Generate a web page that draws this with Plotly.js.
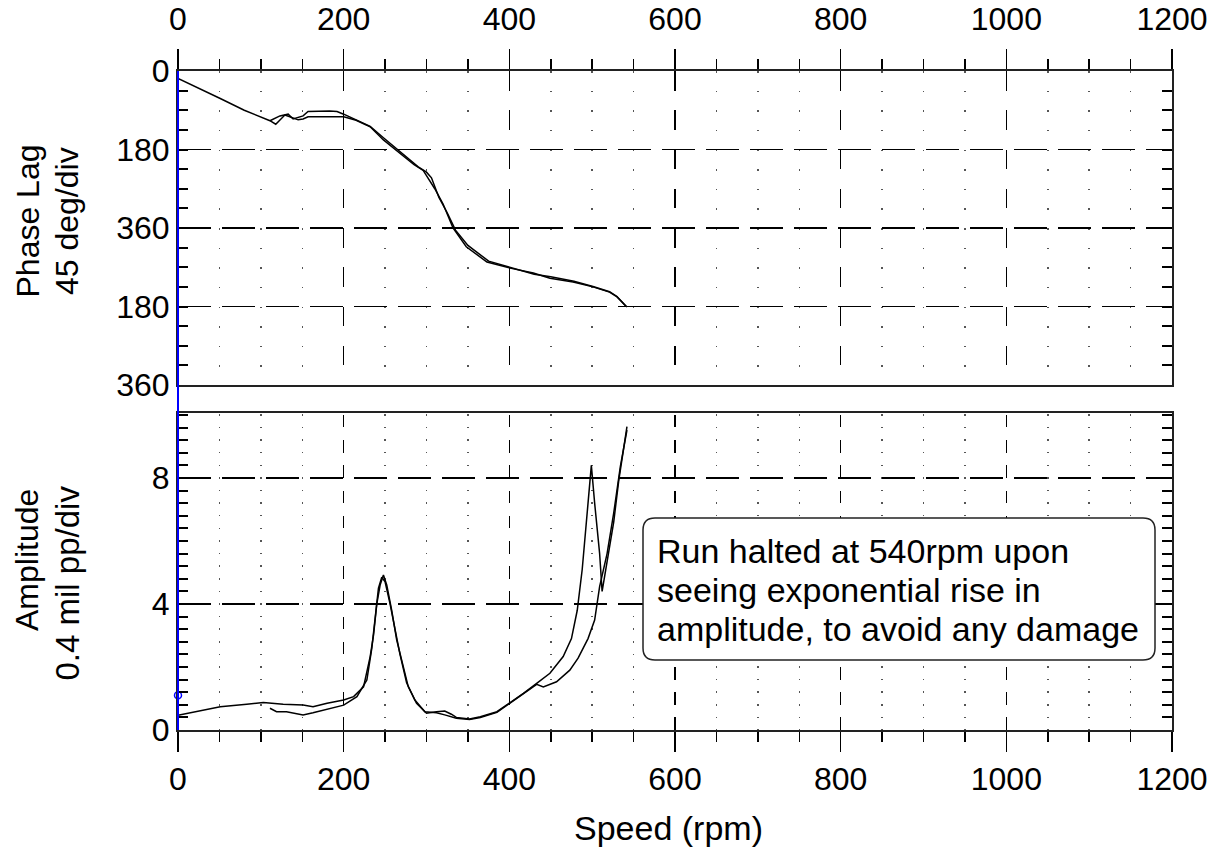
<!DOCTYPE html>
<html>
<head>
<meta charset="utf-8">
<script src="https://cdn.plot.ly/plotly-3.0.1.min.js"></script>
<style>html,body{margin:0;padding:0;background:#fff;}#chart{width:1216px;height:851px;}</style>
</head>
<body>
<div id="chart"></div>
<script>
// ---------------- data ----------------
const phaseRun1Speed = [0, 25, 51, 80, 111, 118, 129, 135, 145, 151, 157, 183, 200, 215, 232, 248, 262, 272, 285, 296, 300, 310, 320, 332, 348, 373, 401, 429, 449, 477, 501, 521, 530, 542];
const phaseRun1Lag   = [17, 39, 63, 90, 114, 122, 101, 105, 112, 110, 105, 105, 105, 113, 128, 158, 180, 196, 215, 228, 240, 270, 305, 360, 403, 438, 452, 463, 475, 484, 495, 507, 518, 541];

const phaseRun2Speed = [111, 123, 133, 139, 151, 157, 183, 192, 200, 215, 232, 248, 262, 275, 290, 300, 306, 315, 325, 335, 350, 375, 401, 430, 450, 478, 501, 521, 530, 541];
const phaseRun2Lag   = [114, 103, 99, 110, 103, 93, 92, 93, 99, 112, 127, 153, 175, 195, 220, 232, 245, 290, 325, 365, 400, 436, 450, 466, 472, 482, 494, 506, 517, 540];

const ampRun1Speed = [0, 30, 51, 83, 103, 127, 151, 163, 180, 200, 212, 224, 232, 236, 240, 244, 248, 252, 258, 264, 270, 278, 288, 300, 312, 322, 330, 336, 352, 365, 385, 401, 417, 433, 449, 465, 475, 482, 488, 495, 499, 503, 509, 512, 518, 526, 532, 540, 542];
const ampRun1Value = [0.47, 0.63, 0.74, 0.82, 0.87, 0.82, 0.79, 0.74, 0.85, 0.95, 1.06, 1.37, 2.33, 3.0, 4.0, 4.6, 4.92, 4.6, 3.8, 2.86, 2.2, 1.37, 0.85, 0.53, 0.58, 0.6, 0.5, 0.4, 0.35, 0.42, 0.58, 0.87, 1.16, 1.48, 1.8, 2.33, 2.9, 3.8, 5.1, 7.2, 8.4, 7.2, 5.6, 4.4, 5.3, 6.6, 7.9, 9.2, 9.63];

const ampRun2Speed = [111, 119, 131, 151, 163, 183, 200, 216, 228, 234, 238, 242, 246, 250, 256, 262, 268, 276, 286, 298, 312, 322, 336, 352, 365, 385, 401, 417, 433, 441, 457, 473, 483, 495, 503, 509, 518, 526, 534, 542];
const ampRun2Value = [0.69, 0.58, 0.58, 0.48, 0.55, 0.69, 0.79, 1.06, 1.59, 2.6, 3.6, 4.5, 4.85, 4.7, 4.0, 3.2, 2.4, 1.5, 0.95, 0.58, 0.55, 0.48, 0.37, 0.33, 0.4, 0.56, 0.85, 1.15, 1.45, 1.37, 1.53, 1.9, 2.28, 2.9, 3.49, 4.55, 5.6, 6.88, 8.36, 9.52];

const cursorSpeed = [0];
const cursorAmp = [1.1];

const phaseTickVals = [0, 180, 360, 540, 720];
const phaseTickText = ['0', '180', '360', '180', '360'];
const ampTickVals = [0, 4, 8];
const ampTickText = ['0', '4', '8'];

const noteLines = ['Run halted at 540rpm upon', 'seeing exponential rise in', 'amplitude, to avoid any damage'];

// ---------------- layout helpers ----------------
const W = 1216, H = 851;
const L = 178, R = 1172, T = 71, B = 730;
const PW = R - L, PH = B - T;
const px2x = px => (px - L) / PW;
const py2y = py => (B - py) / PH;
const FONT = 'Liberation Sans, Arial, sans-serif';

const topBottomPx = 385, botTopPx = 413;
const topDomain = [py2y(topBottomPx), 1];
const botDomain = [0, py2y(botTopPx)];

const botH = B - botTopPx;          // 317 px
const div = botH / 10.06 * 0.4;     // px per 0.4 mil
const period = 2 * div;
// dashes aligned from the bottom edge: dash occupies [botH - div*(2k+1), botH - div*2k]
let g = ((botH - div) % period + period) % period;   // distance from top to first dash start
let majorDash;
if (g + div <= period) {
  majorDash = '0px,' + g.toFixed(3) + 'px,' + div.toFixed(3) + 'px,' + (period - g - div).toFixed(3) + 'px';
} else {
  const first = g + div - period;
  majorDash = first.toFixed(3) + 'px,' + (g - first).toFixed(3) + 'px,' + (period - g).toFixed(3) + 'px,0px';
}
const offDot = botH % div;
const dotDash = '0px,' + Math.max(0, offDot - 0.75).toFixed(3) + 'px,1.5px,' + (div - Math.max(0, offDot - 0.75) - 1.5).toFixed(3) + 'px';

const lineStyle = {color: '#000', width: 1.5};

const traces = [
  {x: phaseRun1Speed, y: phaseRun1Lag, xaxis: 'x', yaxis: 'y', mode: 'lines', line: lineStyle, hoverinfo: 'skip'},
  {x: phaseRun2Speed, y: phaseRun2Lag, xaxis: 'x', yaxis: 'y', mode: 'lines', line: lineStyle, hoverinfo: 'skip'},
  {x: ampRun1Speed, y: ampRun1Value, xaxis: 'x2', yaxis: 'y2', mode: 'lines', line: lineStyle, hoverinfo: 'skip'},
  {x: ampRun2Speed, y: ampRun2Value, xaxis: 'x2', yaxis: 'y2', mode: 'lines', line: lineStyle, hoverinfo: 'skip'},
  {x: cursorSpeed, y: cursorAmp, xaxis: 'x2', yaxis: 'y2', mode: 'markers', cliponaxis: false,
   marker: {symbol: 'circle-open', size: 7, color: '#0000ff', line: {width: 1.5, color: '#0000ff'}}, hoverinfo: 'skip'}
];

const xCommon = {
  range: [0, 1200], dtick: 200, tick0: 0,
  showline: true, mirror: true, linecolor: '#222', linewidth: 2,
  ticks: 'outside', ticklen: 20, tickwidth: 1.5, tickcolor: '#000',
  tickfont: {family: FONT, size: 32, color: '#000'},
  showgrid: true, gridcolor: '#000', gridwidth: 1.5,
  zeroline: false, fixedrange: true,
};

const topDiv = (topBottomPx - T) / 16;

const layout = {
  width: W, height: H,
  margin: {l: L, r: W - R, t: T, b: H - B, pad: 0},
  paper_bgcolor: '#fff', plot_bgcolor: '#fff',
  showlegend: false,
  font: {family: FONT, size: 32, color: '#000'},
  xaxis: Object.assign({}, xCommon, {
    anchor: 'y', side: 'top', domain: [0, 1],
    griddash: topDiv + 'px,' + topDiv + 'px',
    ticklabelstandoff: 6,
    minor: {dtick: 50, tick0: 0, ticks: 'outside', ticklen: 10, tickwidth: 1.5, tickcolor: '#000',
            showgrid: true, gridcolor: '#555', gridwidth: 1.5, griddash: '1.5px,' + (topDiv - 1.5) + 'px'}
  }),
  xaxis2: Object.assign({}, xCommon, {
    anchor: 'y2', side: 'bottom', domain: [0, 1],
    griddash: majorDash,
    minor: {dtick: 50, tick0: 0, ticks: 'outside', ticklen: 10, tickwidth: 1.5, tickcolor: '#000',
            showgrid: true, gridcolor: '#555', gridwidth: 1.5, griddash: dotDash}
  }),
  yaxis: {
    anchor: 'x', domain: topDomain, range: [720, 0],
    tickmode: 'array', tickvals: phaseTickVals, ticktext: phaseTickText,
    ticks: 'inside', ticklen: 10, tickwidth: 2, tickcolor: '#000',
    tickfont: {family: FONT, size: 32, color: '#000'},
    showline: true, mirror: 'allticks', linecolor: '#222', linewidth: 2,
    showgrid: true, gridcolor: '#000', gridwidth: 1.5, griddash: '33px,11px',
    zeroline: false, fixedrange: true,
    minor: {dtick: 45, tick0: 0, ticks: 'inside', ticklen: 10, tickwidth: 2, tickcolor: '#000', showgrid: false}
  },
  yaxis2: {
    anchor: 'x2', domain: botDomain, range: [0, 10.06],
    tickmode: 'array', tickvals: ampTickVals, ticktext: ampTickText,
    ticks: 'inside', ticklen: 10, tickwidth: 2, tickcolor: '#000',
    tickfont: {family: FONT, size: 32, color: '#000'},
    showline: true, mirror: 'allticks', linecolor: '#222', linewidth: 2,
    showgrid: true, gridcolor: '#000', gridwidth: 1.5, griddash: '33px,11px',
    zeroline: false, fixedrange: true,
    minor: {dtick: 0.4, tick0: 0, ticks: 'inside', ticklen: 10, tickwidth: 2, tickcolor: '#000', showgrid: false}
  },
  shapes: [
    {type: 'line', xref: 'paper', yref: 'paper', x0: 0, x1: 0, y0: 0, y1: 1,
     line: {color: '#0000ff', width: 2}, layer: 'above'},
  ],
  annotations: [
    {text: 'Phase Lag', xref: 'paper', yref: 'paper', x: px2x(27), y: py2y(143), xanchor: 'center', yanchor: 'top',
     textangle: -90, showarrow: false, font: {family: FONT, size: 32, color: '#000'}},
    {text: '45 deg/div', xref: 'paper', yref: 'paper', x: px2x(67), y: py2y(145), xanchor: 'center', yanchor: 'top',
     textangle: -90, showarrow: false, font: {family: FONT, size: 32, color: '#000'}},
    {text: 'Amplitude', xref: 'paper', yref: 'paper', x: px2x(27), y: py2y(487), xanchor: 'center', yanchor: 'top',
     textangle: -90, showarrow: false, font: {family: FONT, size: 32, color: '#000'}},
    {text: '0.4 mil pp/div', xref: 'paper', yref: 'paper', x: px2x(67), y: py2y(484), xanchor: 'center', yanchor: 'top',
     textangle: -90, showarrow: false, font: {family: FONT, size: 33, color: '#000'}},
    {text: 'Speed (rpm)', xref: 'paper', yref: 'paper', x: px2x(668), y: py2y(828), xanchor: 'center', yanchor: 'middle',
     showarrow: false, font: {family: FONT, size: 34, color: '#000'}}
  ]
};

const noteY = [551, 590, 629];
noteLines.forEach(function (t, i) {
  layout.annotations.push({text: t, xref: 'paper', yref: 'paper', x: px2x(655), y: py2y(noteY[i]),
    xanchor: 'left', yanchor: 'middle', align: 'left', showarrow: false,
    font: {family: FONT, size: 34, color: '#000'}});
});

// rounded note box (pixel geometry converted to paper coords)
(function () {
  const x0 = px2x(643), x1 = px2x(1155), y0 = py2y(518), y1 = py2y(660);
  const rx = 12 / PW, ry = 12 / PH;
  const p = [
    'M', x0 + rx, y0, 'L', x1 - rx, y0, 'Q', x1, y0, x1, y0 - ry,
    'L', x1, y1 + ry, 'Q', x1, y1, x1 - rx, y1,
    'L', x0 + rx, y1, 'Q', x0, y1, x0, y1 + ry,
    'L', x0, y0 - ry, 'Q', x0, y0, x0 + rx, y0, 'Z'
  ];
  let s = '';
  for (let i = 0; i < p.length; i++) {
    const v = p[i];
    if (typeof v === 'string') s += v;
    else { s += v.toFixed(5); s += (typeof p[i + 1] === 'number') ? ',' : ' '; }
  }
  layout.shapes.push({type: 'path', xref: 'paper', yref: 'paper', path: s,
    fillcolor: '#fff', line: {color: '#222', width: 1.5}, layer: 'above'});
})();

Plotly.newPlot('chart', traces, layout, {displayModeBar: false, staticPlot: true});
</script>
</body>
</html>
